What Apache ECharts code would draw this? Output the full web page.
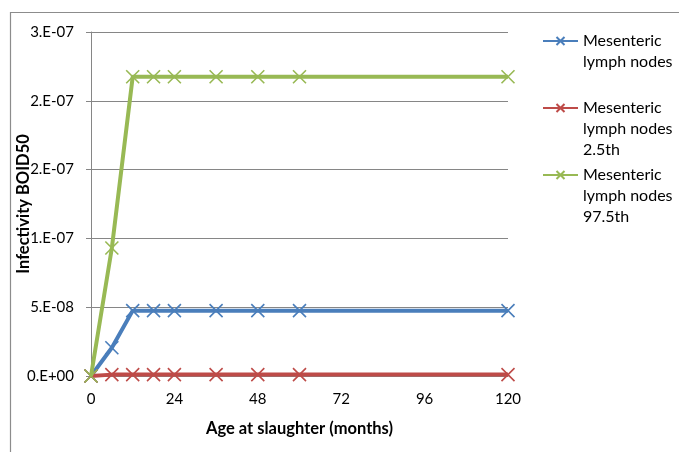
<!DOCTYPE html>
<html><head><meta charset="utf-8">
<script src="https://cdn.jsdelivr.net/npm/echarts@6/dist/echarts.min.js"></script>
<style>html,body{margin:0;padding:0;background:#fff}#c{width:679px;height:452px}</style>
</head><body><div id="c"></div>
<script>
var ages = [0, 6, 12, 18, 24, 36, 48, 60, 120];
var mlnMedian = [0, 2.05e-8, 4.75e-8, 4.75e-8, 4.75e-8, 4.75e-8, 4.75e-8, 4.75e-8, 4.75e-8];
var mln25 = [0, 1e-9, 1e-9, 1e-9, 1e-9, 1e-9, 1e-9, 1e-9, 1e-9];
var mln975 = [0, 9.3e-8, 2.175e-7, 2.175e-7, 2.175e-7, 2.175e-7, 2.175e-7, 2.175e-7, 2.175e-7];
var seriesNames = ['Mesenteric\nlymph nodes', 'Mesenteric\nlymph nodes\n2.5th', 'Mesenteric\nlymph nodes\n97.5th'];
var yTickLabels = ['0.E+00', '5.E-08', '1.E-07', '2.E-07', '2.E-07', '3.E-07'];
var xTickLabels = ['0', '24', '48', '72', '96', '120'];
var colors = ['#4A7EBB', '#BE4B48', '#98B954'];
var FONT = 'Lato';
var X = 'path://M0,0L10,10M10,0L0,10';

function pairs(ys){ return ages.map(function(a,i){return [a, ys[i]];}); }
var datas = [mlnMedian, mln25, mln975];

var series = datas.map(function(d, i){
  return {
    name: seriesNames[i], type: 'line', data: pairs(d),
    symbol: X, symbolSize: 13, showSymbol: true,
    lineStyle: {color: colors[i], width: 4},
    itemStyle: {color: colors[i], borderColor: colors[i], borderWidth: 1.6},
    z: 2 + i
  };
});

function legendFor(i, iconY){
  var lines = seriesNames[i].split('\n').length;
  var pad = lines - 1;
  var total = lines + pad;
  return {
    show: true, orient: 'vertical', left: 542, top: iconY - total * 21 / 2, padding: 0,
    data: [seriesNames[i]],
    itemWidth: 35, itemHeight: 10,
    selectedMode: false,
    formatter: function(n){ return new Array(pad + 1).join('\n') + n; },
    textStyle: {fontFamily: FONT, fontSize: 16, color: '#000', lineHeight: 21}
  };
}

var chart = echarts.init(document.getElementById('c'));
chart.setOption({
  animation: false,
  color: colors,
  grid: {left: 91, right: 171, top: 32, bottom: 76, containLabel: false, outerBoundsMode: 'none'},
  legend: [legendFor(0, 41), legendFor(1, 108), legendFor(2, 175)],
  graphic: [{type: 'rect', shape: {x: 10.5, y: 12.5, width: 700, height: 500},
    style: {fill: 'none', stroke: '#8c8c8c', lineWidth: 1.2}, silent: true}],
  xAxis: {
    type: 'value', min: 0, max: 120, interval: 24,
    name: 'Age at slaughter (months)', nameLocation: 'middle', nameGap: 44,
    nameTextStyle: {fontFamily: FONT, fontSize: 16.5, fontWeight: 'bold', color: '#000'},
    axisLine: {show: true, lineStyle: {color: '#868686'}},
    axisTick: {show: false},
    splitLine: {show: false},
    axisLabel: {fontFamily: FONT, fontSize: 15, color: '#000', margin: 16,
      formatter: function(v){ return xTickLabels[Math.round(v/24)]; }}
  },
  yAxis: {
    type: 'value', min: 0, max: 2.5e-7, interval: 5e-8,
    name: 'Infectivity BOID50', nameLocation: 'middle', nameGap: 59, nameMoveOverlap: false,
    nameTextStyle: {fontFamily: FONT, fontSize: 16.5, fontWeight: 'bold', color: '#000'},
    axisLine: {show: true, lineStyle: {color: '#868686'}},
    axisTick: {show: true, length: 5, lineStyle: {color: '#868686'}},
    splitLine: {show: true, lineStyle: {color: '#868686', width: 1}},
    axisLabel: {fontFamily: FONT, fontSize: 15, color: '#000', margin: 17,
      formatter: function(v){ return yTickLabels[Math.round(v/5e-8)]; }}
  },
  series: series
});
</script></body></html>
